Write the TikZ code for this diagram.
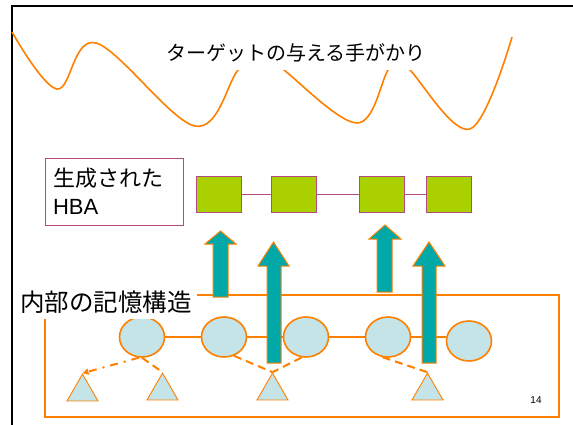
\documentclass[tikz,border=0pt]{standalone}
\usepackage{fontspec}
\setmainfont{Liberation Sans}
\newfontfamily\jp{Noto Sans CJK JP}
\usetikzlibrary{shapes.geometric,arrows.meta}
\definecolor{orng}{RGB}{255,128,0}
\definecolor{teal2}{RGB}{0,168,168}
\definecolor{lgreen}{RGB}{170,208,0}
\definecolor{mauve}{RGB}{176,76,128}
\definecolor{lblue}{RGB}{196,228,232}
\begin{document}
\begin{tikzpicture}[x=1pt,y=-1pt,
  wave/.style={draw=orng,line width=1.6pt},
  toplabel/.style={fill=white,inner sep=0pt,minimum width=272pt,minimum height=34pt,font=\jp\fontsize{20}{24}\selectfont},
  hbabox/.style={draw=mauve,line width=0.9pt,fill=white,minimum width=138pt,minimum height=67pt,inner xsep=8pt,inner ysep=0pt,text width=122pt,align=left,font=\fontsize{22}{28}\selectfont},
  sq/.style={draw=mauve,fill=lgreen,line width=1pt,inner sep=0pt,minimum width=45pt,minimum height=36pt},
  sqline/.style={draw=mauve,line width=1pt},
  barrow/.style={fill=teal2,draw=orng,line width=1pt},
  memrect/.style={draw=orng,line width=2pt},
  memlabel/.style={fill=white,inner sep=0pt,minimum width=182pt,minimum height=34pt,font=\jp\fontsize{24.5}{28}\selectfont},
  ell/.style={ellipse,draw=orng,fill=lblue,line width=1.6pt,inner sep=0pt,minimum width=45pt,minimum height=40pt},
  tri/.style={regular polygon,regular polygon sides=3,draw=orng,fill=lblue,line width=0.9pt,inner sep=0pt,minimum size=35.8pt},
  elink/.style={draw=orng,line width=1.6pt},
  dashlink/.style={draw=orng,line width=2pt,dash pattern=on 8pt off 5pt},
  dotlink/.style={draw=orng,line width=2pt,dash pattern=on 8pt off 6pt on 2pt off 6pt,-{Triangle[length=6pt,width=6pt]}},
  pagenum/.style={font=\fontsize{10}{12}\selectfont}
]
\useasboundingbox (0,0) rectangle (573,424);
\clip (0,0) rectangle (573,424);
\fill[white] (0,0) rectangle (573,424);
\draw[line width=2pt] (12,430) -- (12,6) -- (580,6);

% wave
\draw[wave] plot[smooth,tension=0.6] coordinates {(12,32) (57,89) (96,43) (195,126) (238,70) (261,48) (284,70) (357,123) (388,70) (399,58) (410,70) (470,129) (512,37)};
\node[toplabel] (cue) at (296,53) {ターゲットの与える手がかり};

% generated HBA
\node[hbabox] (hba) at (114,191.5) {{\jp 生成された}\\HBA};
\node[sq] (s1) at (218.5,194) {};
\node[sq] (s2) at (293.5,194) {};
\node[sq] (s3) at (382,194) {};
\node[sq] (s4) at (449,194) {};
\draw[sqline] (s1) -- (s2);
\draw[sqline] (s2) -- (s3);
\draw[sqline] (s3) -- (s4);

% internal memory structure
\draw[memrect] (45,295) rectangle (559,417);
\node[ell] (e1) at (142,337) {};
\node[ell] (e2) at (224,337) {};
\node[ell] (e3) at (306,337) {};
\node[ell] (e4) at (388,337) {};
\node[ell] (e5) at (469,341) {};
\draw[elink] (e1) -- (e2);
\draw[elink] (e2) -- (e3);
\draw[elink] (e3) -- (e4);
\draw[elink] (e4.east) -- (e4.east -| e5.west);

\node[tri] (t1) at (82.5,392) {};
\node[tri] (t2) at (162.5,391) {};
\node[tri] (t3) at (272.5,391) {};
\node[tri] (t4) at (427.5,391) {};

\draw[dotlink] (e1.262) -- (t1.corner 1);
\draw[dashlink] (e1.south) -- (t2.corner 1);
\draw[dashlink] (e2.-62) -- (t3.corner 1);
\draw[dashlink] (e3.258) -- (t3.corner 1);
\draw[dashlink] (e4.255) -- (t4.corner 1);

\node[memlabel] (mem) at (106,302) {内部の記憶構造};

% block arrows
\draw[barrow] (213,297) -- (213,244) -- (205,244) -- (220.5,231) -- (236,244) -- (228,244) -- (228,297) -- cycle;
\draw[barrow] (267,363) -- (267,266) -- (258,266) -- (273.5,242) -- (289,266) -- (281,266) -- (281,363) -- cycle;
\draw[barrow] (377,292) -- (377,239) -- (369,239) -- (385,225) -- (401,239) -- (392,239) -- (392,292) -- cycle;
\draw[barrow] (422,363) -- (422,266) -- (413,266) -- (429,242) -- (445,266) -- (436,266) -- (436,363) -- cycle;

\node[pagenum] (pg) at (536,400) {14};
\end{tikzpicture}
\end{document}
